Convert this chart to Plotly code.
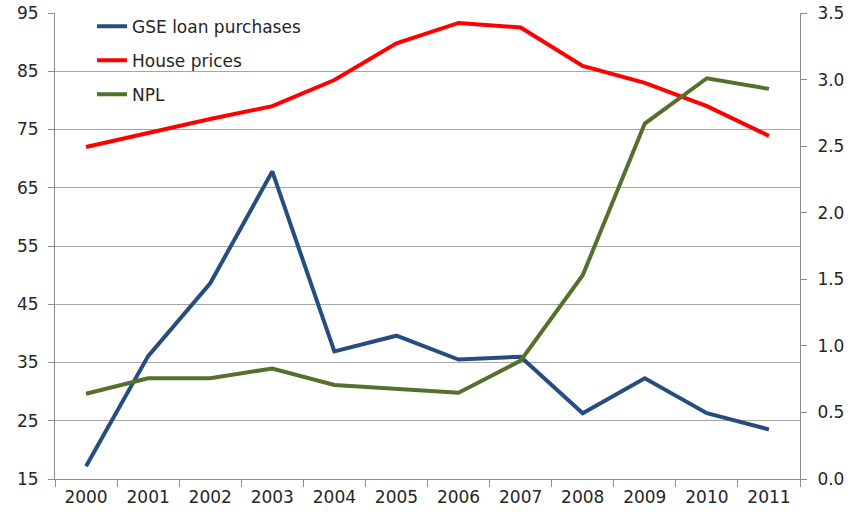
import plotly.graph_objects as go

years = ["2000", "2001", "2002", "2003", "2004", "2005", "2006", "2007", "2008", "2009", "2010", "2011"]
gse_loan_purchases = [17.2, 36.1, 48.6, 67.8, 36.9, 39.6, 35.5, 36.0, 26.3, 32.3, 26.3, 23.5]
house_prices = [72.0, 74.4, 76.8, 79.0, 83.5, 89.8, 93.3, 92.5, 85.9, 83.0, 79.0, 73.9]
npl = [0.64, 0.756, 0.756, 0.83, 0.706, 0.674, 0.648, 0.889, 1.53, 2.67, 3.01, 2.93]

left_ticks = [15, 25, 35, 45, 55, 65, 75, 85, 95]
right_ticks = [0.0, 0.5, 1.0, 1.5, 2.0, 2.5, 3.0, 3.5]

FONT = "DejaVu Sans"
TXT = "#262626"

fig = go.Figure()
fig.add_trace(go.Scatter(x=years, y=gse_loan_purchases, name="GSE loan purchases",
                         mode="lines", line=dict(color="#264d80", width=4),
                         legendgroup="a", yaxis="y"))
fig.add_trace(go.Scatter(x=years, y=house_prices, name="House prices",
                         mode="lines", line=dict(color="#ff0000", width=4),
                         legendgroup="b", yaxis="y"))
fig.add_trace(go.Scatter(x=years, y=npl, name="NPL",
                         mode="lines", line=dict(color="#55702a", width=4),
                         legendgroup="c", yaxis="y2"))

fig.update_layout(
    width=853, height=521,
    margin=dict(l=55, r=53, t=13, b=42, autoexpand=False),
    paper_bgcolor="white", plot_bgcolor="white",
    font=dict(family=FONT, size=17, color=TXT),
    legend=dict(x=0.0497, y=1.0094, xanchor="left", yanchor="top",
                bgcolor="rgba(0,0,0,0)", tracegroupgap=9,
                font=dict(family=FONT, size=17, color=TXT)),
    xaxis=dict(type="category", range=[-0.5, 11.5], tickson="boundaries",
               ticks="outside", ticklen=7, ticklabelstandoff=3, automargin=False,
               tickcolor="#8c8c8c", showline=True, linecolor="#8c8c8c", linewidth=1,
               showgrid=False, tickfont=dict(size=17, color=TXT)),
    yaxis=dict(range=[15, 95], tickvals=left_ticks, ticks="outside", ticklen=6,
               ticklabelstandoff=6, automargin=False,
               tickcolor="#8c8c8c", showline=True, linecolor="#8c8c8c", linewidth=1,
               showgrid=True, gridcolor="#a6a6a6", gridwidth=1, zeroline=False,
               tickfont=dict(size=17, color=TXT)),
    yaxis2=dict(range=[0, 3.5], tickvals=right_ticks, tickformat=".1f",
                overlaying="y", side="right", ticks="outside", ticklen=6,
                ticklabelstandoff=7, automargin=False,
                tickcolor="#8c8c8c", showline=True, linecolor="#8c8c8c", linewidth=1,
                showgrid=False, zeroline=False, tickfont=dict(size=17, color=TXT)),
)

fig.write_html("out.html", config={"displayModeBar": False},
               post_script="document.body.style.margin='0px';")
